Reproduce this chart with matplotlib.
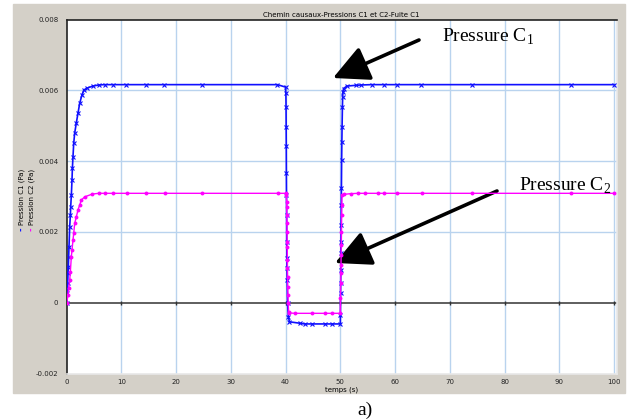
import matplotlib.pyplot as plt
from matplotlib.patches import Rectangle

plt.rcParams['mathtext.fontset'] = 'custom'
plt.rcParams['mathtext.rm'] = 'Liberation Serif'

# Pression C1 (Pa)
t_c1 = [0, 0.12, 0.18, 0.24, 0.3, 0.36, 0.42, 0.55, 0.67, 0.73, 0.85, 0.97, 1.04, 1.15,
        1.28, 1.46, 1.77, 2.06, 2.37, 2.79, 3.15, 3.7, 4.79, 5.83, 6.92, 8.43, 10.87,
        14.5, 17.85, 24.8, 38.5, 40.0, 40.05, 40.08, 40.1, 40.12, 40.14, 40.16, 40.18,
        40.2, 40.22, 40.25, 40.28, 40.35, 40.5, 40.7, 42.6, 43.5, 44.9, 47.2, 48.5,
        50.0, 50.02, 50.04, 50.06, 50.08, 50.1, 50.12, 50.14, 50.17, 50.2, 50.24, 50.28,
        50.32, 50.38, 50.43, 50.48, 50.6, 51.2, 52.8, 53.8, 55.7, 57.9, 60.3, 64.8,
        74.0, 92.2, 100.0]
p_c1 = [0, 0.00027, 0.00055, 0.00083, 0.00102, 0.0013, 0.00158, 0.00215, 0.00248,
        0.00271, 0.00304, 0.00347, 0.0038, 0.00412, 0.0045, 0.00479, 0.00509, 0.00535,
        0.00563, 0.00587, 0.00601, 0.00606, 0.00612, 0.00615, 0.00616, 0.00616,
        0.00616, 0.00616, 0.00616, 0.00616, 0.00616, 0.00609, 0.00592, 0.00554,
        0.00497, 0.00443, 0.00366, 0.00304, 0.00248, 0.00172, 0.00125, 0.00097,
        0.00064, 0.0, -0.00039, -0.00054, -0.00058, -0.0006, -0.0006, -0.0006,
        -0.0006, -0.0006, -0.00035, 0.00027, 0.00055, 0.00093, 0.0014, 0.00172,
        0.0022, 0.00276, 0.00323, 0.00403, 0.00455, 0.00497, 0.00554, 0.00582,
        0.00596, 0.00605, 0.00612, 0.00614, 0.00615, 0.00616, 0.00616, 0.00616,
        0.00616, 0.00616, 0.00616, 0.00616]

# Pression C2 (Pa)
t_c2 = [0, 0.24, 0.36, 0.55, 0.67, 0.85, 0.97, 1.15, 1.28, 1.46, 1.77, 2.06, 2.37,
        2.68, 3.28, 4.7, 5.9, 7.0, 8.4, 11.0, 14.5, 17.9, 24.8, 38.6, 40.0, 40.15,
        40.18, 40.2, 40.22, 40.24, 40.26, 40.28, 40.3, 40.32, 40.34, 40.36, 40.38,
        40.42, 40.47, 40.55, 40.7, 41.7, 44.9, 47.2, 48.4, 50.0, 50.03, 50.06, 50.09,
        50.12, 50.15, 50.18, 50.21, 50.25, 50.28, 50.3, 50.6, 51.9, 53.3, 54.5, 56.9,
        57.9, 60.3, 64.9, 74.0, 92.2, 100.0]
p_c2 = [0, 0.00022, 0.00041, 0.00064, 0.00088, 0.0013, 0.00149, 0.00177, 0.00196,
        0.00224, 0.00243, 0.00262, 0.00276, 0.0029, 0.00299, 0.00307, 0.00309,
        0.00309, 0.00309, 0.00309, 0.00309, 0.00309, 0.00309, 0.00309, 0.00309,
        0.00304, 0.00285, 0.00271, 0.00248, 0.00224, 0.00201, 0.00172, 0.00158,
        0.00121, 0.00097, 0.00073, 0.00045, 0.00022, 0.0, -0.00025, -0.00029,
        -0.0003, -0.0003, -0.0003, -0.0003, -0.0003, 0.00012, 0.00055, 0.00083,
        0.00106, 0.00135, 0.00163, 0.00201, 0.00248, 0.00276, 0.00304, 0.00306,
        0.00308, 0.00309, 0.00309, 0.00309, 0.00309, 0.00309, 0.00309, 0.00309,
        0.00309, 0.00309]

xticks = [0, 10, 20, 30, 40, 50, 60, 70, 80, 90, 100]
yticks = [-0.002, 0, 0.002, 0.004, 0.006, 0.008]
ytick_labels = ['-0.002', '0', '0.002', '0.004', '0.006', '0.008']

fig = plt.figure(figsize=(6.35, 4.2), dpi=100)
W, H = 635, 420

# grey window panel
fig.patches.append(Rectangle((13 / W, 1 - 393 / H), 612 / W, 389 / H,
                             transform=fig.transFigure, color='#d4d0c8', zorder=-10))

ax = fig.add_axes([66.7 / W, 1 - 373.5 / H, 550 / W, 354 / H])
ax.set_zorder(1)
ax.set_facecolor('white')
ax.set_xlim(0, 100.5)
ax.set_ylim(-0.002, 0.008)

ax.set_xticks(xticks)
ax.set_yticks(yticks)
ax.set_yticklabels(ytick_labels)
ax.tick_params(length=0, labelsize=5, colors='#222222', pad=6)
ax.tick_params(axis='x', pad=4)

for x in xticks[1:]:
    ax.axvline(x, color='#b9d3ee', lw=1, zorder=1)
for y in [0.002, 0.004, 0.006]:
    ax.axhline(y, color='#b9d3ee', lw=1, zorder=1)
ax.axhline(0, color='#333333', lw=1.1, zorder=2)
ax.plot(xticks, [0] * len(xticks), ls='none', marker='|', ms=3, color='#333333', zorder=2)

ax.spines['top'].set_color('#222222')
ax.spines['left'].set_color('#222222')
ax.spines['bottom'].set_color('#e8e8e8')
ax.spines['right'].set_color('#e8e8e8')
for s in ax.spines.values():
    s.set_linewidth(1.2)

ax.plot(t_c1, p_c1, color='#1010ff', lw=1.2, marker='x', ms=2.5, mew=0.8, zorder=3)
ax.plot(t_c2, p_c2, color='#ff00ff', lw=1.0, marker='o', ms=2.8, mew=0, zorder=4)

ax.set_title('Chemin causaux-Pressions C1 et C2-Fuite C1', fontsize=5, pad=2)
ax.set_xlabel('temps (s)', fontsize=5, labelpad=1)

# legend drawn as rotated labels on the left
fig.text(21.5 / W, 1 - 229 / H, '-', color='#1010ff', rotation=90, fontsize=6,
         ha='center', va='center', fontweight='bold')
fig.text(21.5 / W, 1 - 225 / H, 'Pression C1 (Pa)', rotation=90, fontsize=5,
         ha='center', va='bottom')
fig.text(31.5 / W, 1 - 229 / H, '-', color='#ff00ff', rotation=90, fontsize=6,
         ha='center', va='center', fontweight='bold')
fig.text(31.5 / W, 1 - 225 / H, 'Pression C2 (Pa)', rotation=90, fontsize=5,
         ha='center', va='bottom')

# annotations
arrow = dict(arrowstyle='-|>,head_length=1.0,head_width=0.5', color='black', lw=2.6,
             shrinkA=0, shrinkB=0, mutation_scale=22)
fig.text(442 / W, 1 - 42 / H, r'Pressure C$_\mathrm{1}$', family='Liberation Serif',
         fontsize=14, ha='left', va='baseline', zorder=5)
fig.text(519 / W, 1 - 191 / H, r'Pressure C$_\mathrm{2}$', family='Liberation Serif',
         fontsize=14, ha='left', va='baseline', zorder=5)
ax.annotate('', xy=(333 / W, 1 - 78 / H), xytext=(419 / W, 1 - 40 / H),
            xycoords='figure fraction', textcoords='figure fraction', arrowprops=arrow,
            annotation_clip=False)
ax.annotate('', xy=(335 / W, 1 - 263 / H), xytext=(497 / W, 1 - 191 / H),
            xycoords='figure fraction', textcoords='figure fraction', arrowprops=arrow,
            annotation_clip=False)

fig.text(365 / W, 1 - 415 / H, 'a)', family='Liberation Serif', fontsize=14,
         ha='center', va='baseline')

fig.savefig('out.png', dpi=100)
